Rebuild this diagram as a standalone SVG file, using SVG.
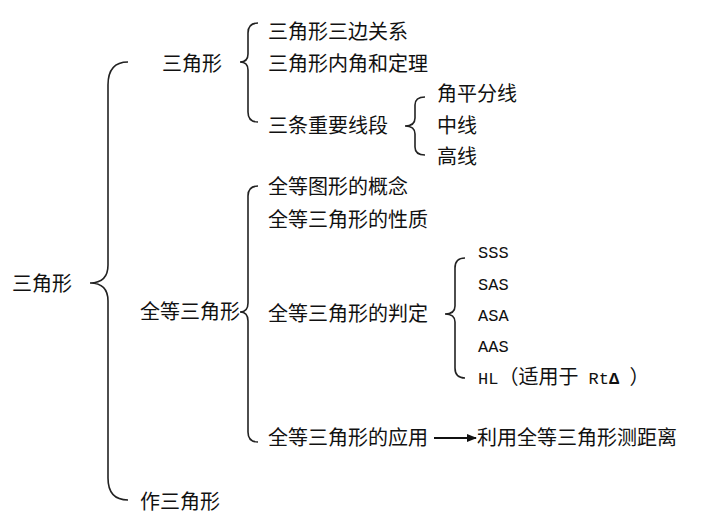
<svg xmlns="http://www.w3.org/2000/svg" width="703" height="526" viewBox="0 0 703 526">
<style>
text{font-family:"Noto Sans CJK SC","Liberation Sans",sans-serif;font-size:20px;fill:#111}
.m{font-family:"Liberation Mono","Noto Sans CJK SC",monospace;font-size:17px}
.b{fill:none;stroke:#222;stroke-width:1.6}
</style>
<defs><marker id="ah" markerWidth="10" markerHeight="8" refX="9" refY="4" orient="auto" markerUnits="userSpaceOnUse"><path d="M0,0L10,4L0,8z" fill="#111"/></marker></defs>
<rect width="703" height="526" fill="#fff"/>
<g id="connectors">
<path class="b" d="M128,62 Q108,62 108,85 L108,265 Q108,283 90,283 Q108,283 108,301 L108,478 Q108,500 128,500"/>
<path class="b" d="M258,23 Q248,23 248,33 L248,54 Q248,62 240,62 Q248,62 248,70 L248,112 Q248,122 258,122"/>
<path class="b" d="M425,97 Q415,97 415,105 L415,118 Q415,126 405,126 Q415,126 415,134 L415,147 Q415,155 425,155"/>
<path class="b" d="M258,186 Q248,186 248,196 L248,303 Q248,312 240,312 Q248,312 248,321 L248,432 Q248,442 258,442"/>
<path class="b" d="M465,258 Q455,258 455,268 L455,306 Q455,314 445,314 Q455,314 455,322 L455,368 Q455,378 465,378"/>
<line x1="434" y1="438" x2="476" y2="438" stroke="#111" stroke-width="2" marker-end="url(#ah)"/>
</g>
<g id="root"><text x="12" y="291">三角形</text></g>
<g id="n1"><text x="162" y="71">三角形</text></g>
<g id="n1a"><text x="268" y="39">三角形三边关系</text></g>
<g id="n1b"><text x="268" y="71">三角形内角和定理</text></g>
<g id="n1c"><text x="268" y="133">三条重要线段</text></g>
<g id="n1c1"><text x="437" y="101">角平分线</text></g>
<g id="n1c2"><text x="437" y="133">中线</text></g>
<g id="n1c3"><text x="437" y="164">高线</text></g>
<g id="n2"><text x="140" y="319">全等三角形</text></g>
<g id="n2a"><text x="268" y="194">全等图形的概念</text></g>
<g id="n2b"><text x="268" y="227">全等三角形的性质</text></g>
<g id="n2c"><text x="268" y="321">全等三角形的判定</text></g>
<g id="n2c1"><text class="m" x="478" y="258">SSS</text></g>
<g id="n2c2"><text class="m" x="478" y="290">SAS</text></g>
<g id="n2c3"><text class="m" x="478" y="321">ASA</text></g>
<g id="n2c4"><text class="m" x="478" y="352">AAS</text></g>
<g id="n2c5"><text class="m" x="478" y="384">HL<tspan style="font-size:20px">（适用于</tspan> Rt<tspan font-weight="bold">Δ</tspan> <tspan style="font-size:20px">）</tspan></text></g>
<g id="n2d"><text x="268" y="445">全等三角形的应用</text></g>
<g id="n2e"><text x="477" y="445">利用全等三角形测距离</text></g>
<g id="n3"><text x="140" y="509">作三角形</text></g>
</svg>
